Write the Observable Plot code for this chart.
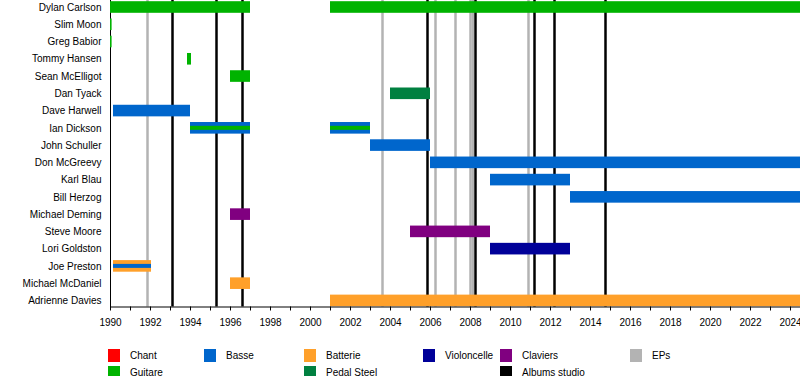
<!DOCTYPE html>
<html>
<head>
<meta charset="utf-8">
<script src="https://cdn.jsdelivr.net/npm/d3@7"></script>
<script src="https://cdn.jsdelivr.net/npm/@observablehq/plot@0.6"></script>
<style>
  body { margin: 0; background: #fff; font-family: "Liberation Sans", Arial, sans-serif; }
  #chart svg { display: block; }
  #legend { position: relative; width: 800px; height: 41px; font-size: 10px; color: #000; }
  .item { position: absolute; display: flex; align-items: center; height: 13px; }
  .sw { width: 12px; height: 13px; margin-right: 10px; }
</style>
</head>
<body>
<div id="chart"></div>
<div id="legend"></div>
<script>
// ---- data ----
const members = ["Dylan Carlson","Slim Moon","Greg Babior","Tommy Hansen","Sean McElligot","Dan Tyack","Dave Harwell","Ian Dickson","John Schuller","Don McGreevy","Karl Blau","Bill Herzog","Michael Deming","Steve Moore","Lori Goldston","Joe Preston","Michael McDaniel","Adrienne Davies"];

const roles = ["Chant","Guitare","Basse","Batterie","Pedal Steel","Violoncelle","Claviers","Albums studio","EPs"];
const roleColors = ["#ff0000","#00b300","#0066cc","#ffa02a","#008040","#000099","#800080","#000000","#b3b3b3"];

const barMember = ["Dylan Carlson","Dylan Carlson","Slim Moon","Greg Babior","Tommy Hansen","Sean McElligot","Dan Tyack","Dave Harwell","Ian Dickson","Ian Dickson","John Schuller","Don McGreevy","Karl Blau","Bill Herzog","Michael Deming","Steve Moore","Lori Goldston","Joe Preston","Michael McDaniel","Adrienne Davies"];
const barStart = [1990,2001,1990,1990,1993.85,1996,2004,1990.15,1994,2001,2003,2006,2009,2013,1996,2005,2009,1990.15,1996,2001];
const barEnd   = [1997,2024.5,1990.08,1990.08,1994.05,1997,2006,1994,1997,2003,2006,2024.5,2013,2024.5,1997,2009,2013,1992.05,1997,2024.5];
const barRole  = ["Guitare","Guitare","Guitare","Guitare","Guitare","Guitare","Pedal Steel","Basse","Basse","Basse","Basse","Basse","Basse","Basse","Claviers","Claviers","Violoncelle","Batterie","Batterie","Batterie"];

const stripeMember = ["Ian Dickson","Ian Dickson","Joe Preston"];
const stripeStart  = [1994,2001,1990.15];
const stripeEnd    = [1997,2003,1992.05];
const stripeRole   = ["Guitare","Guitare","Basse"];

const albumYears = [1993.1,1995.3,1996.6,2005.85,2008.25,2011.2,2012.2,2014.75];
const epYears    = [1991.85,2003.6,2006.25,2007.25,2008.0,2008.12,2010.9];

const tickYears = [1990,1991,1992,1993,1994,1995,1996,1997,1998,1999,2000,2001,2002,2003,2004,2005,2006,2007,2008,2009,2010,2011,2012,2013,2014,2015,2016,2017,2018,2019,2020,2021,2022,2023,2024];
const labelYears = [1990,1992,1994,1996,1998,2000,2002,2004,2006,2008,2010,2012,2014,2016,2018,2020,2022,2024];

// legend layout (style only)
const legendOrder = [["Chant",0,0],["Basse",1,0],["Batterie",2,0],["Violoncelle",3,0],["Claviers",4,0],["EPs",5,0],["Guitare",0,1],["Pedal Steel",2,1],["Albums studio",4,1]];
const legendCols = [108,204,304,423,500,630];

// ---- build ----
const bars = barMember.map((m,i) => ({member:m, start:barStart[i], end:barEnd[i], role:barRole[i]}));
const stripes = stripeMember.map((m,i) => ({member:m, start:stripeStart[i], end:stripeEnd[i], role:stripeRole[i]}));
const colorOf = Object.fromEntries(roles.map((r,i)=>[r, roleColors[i]]));

const H = 335;
const axisY0 = 306.5;
const bandStep = 17.26;
const firstCenter = 7;
const barH = 11.6, stripeH = 4;
const yStart = firstCenter - bandStep/2;

const chart = Plot.plot({
  width: 800,
  height: H,
  marginLeft: 110,
  marginRight: 0,
  marginTop: 0,
  marginBottom: H - axisY0,
  style: {fontFamily: "Liberation Sans, Arial, sans-serif", fontSize: "10px", color: "#000", background: "#fff"},
  x: {domain: [1990, 2024.5], range: [110, 800], label: null},
  y: {domain: members, range: [yStart, yStart + bandStep*18], padding: 0, round: false, label: null},
  color: {domain: roles, range: roleColors},
  marks: [
    Plot.ruleX(epYears, {x: d => d, stroke: colorOf["EPs"], strokeWidth: 2.5}),
    Plot.ruleX(albumYears, {x: d => d, stroke: colorOf["Albums studio"], strokeWidth: 2.5}),
    Plot.frame({anchor: "left", stroke: "#000"}),
    Plot.barX(bars, {x1: "start", x2: "end", y: "member", fill: "role", insetTop: (bandStep-barH)/2, insetBottom: (bandStep-barH)/2}),
    Plot.barX(stripes, {x1: "start", x2: "end", y: "member", fill: "role", insetTop: (bandStep-stripeH)/2, insetBottom: (bandStep-stripeH)/2}),
    Plot.frame({anchor: "bottom", stroke: "#000"}),
    Plot.axisX({ticks: tickYears, tickSize: 4, tickPadding: 8, label: null, tickFormat: d => labelYears.includes(d) ? String(d) : ""}),
    Plot.axisY({tickSize: 0, tickPadding: 9, label: null})
  ]
});
document.getElementById("chart").appendChild(chart);

const leg = document.getElementById("legend");
for (const [role, col, row] of legendOrder) {
  const it = document.createElement("div");
  it.className = "item";
  it.style.left = legendCols[col] + "px";
  it.style.top = (349 - H + row*17) + "px";
  const sw = document.createElement("div");
  sw.className = "sw";
  sw.style.background = colorOf[role];
  const tx = document.createElement("span");
  tx.textContent = role;
  it.appendChild(sw); it.appendChild(tx);
  leg.appendChild(it);
}
</script>
</body>
</html>
